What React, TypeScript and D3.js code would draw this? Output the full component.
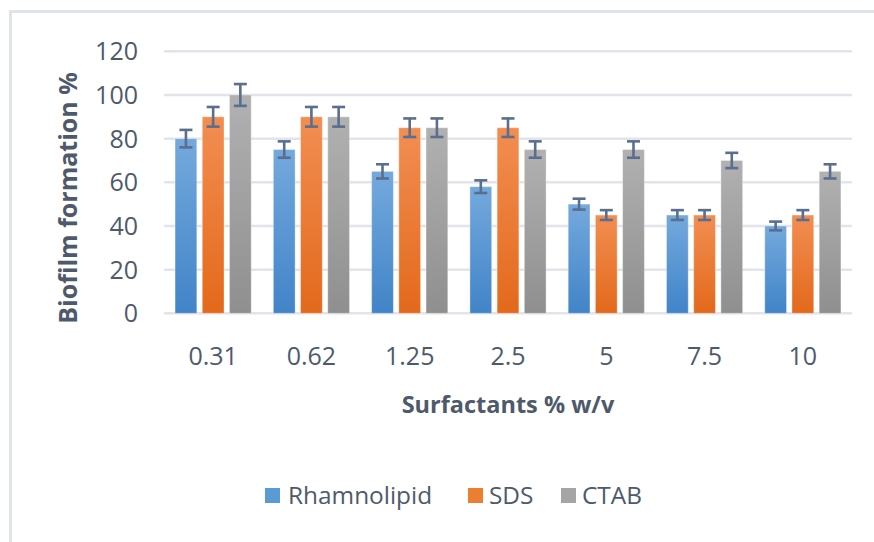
import * as React from 'react';
import { scaleBand, scaleLinear } from 'd3';

const categories = ['0.31', '0.62', '1.25', '2.5', '5', '7.5', '10'];
const seriesNames = ['Rhamnolipid', 'SDS', 'CTAB'];
const rhamnolipid = [80, 75, 65, 58, 50, 45, 40];
const sds = [90, 90, 85, 85, 45, 45, 45];
const ctab = [100, 90, 85, 75, 75, 70, 65];
const rhamnolipidErr = [4, 3.75, 3.25, 2.9, 2.5, 2.25, 2];
const sdsErr = [4.5, 4.5, 4.25, 4.25, 2.25, 2.25, 2.25];
const ctabErr = [5, 4.5, 4.25, 3.75, 3.75, 3.5, 3.25];
const yTicks = [0, 20, 40, 60, 80, 100, 120];

const series = [
    { name: seriesNames[0], values: rhamnolipid, err: rhamnolipidErr, top: '#74a9dd', bottom: '#4184c8', legend: '#5b9bd5' },
    { name: seriesNames[1], values: sds, err: sdsErr, top: '#f28e52', bottom: '#e3691b', legend: '#ed7d31' },
    { name: seriesNames[2], values: ctab, err: ctabErr, top: '#b1b1b1', bottom: '#8f8f8f', legend: '#a5a5a5' },
];

const W = 874;
const H = 542;
const plot = { left: 164, right: 852, top: 51.3, bottom: 313.3 };
const textColor = '#4e5a6c';
const font = '"Open Sans", sans-serif';

export default function App(): JSX.Element {
    const x = scaleBand<string>()
        .domain(categories)
        .range([plot.left, plot.right])
        .paddingInner(0.225)
        .paddingOuter(0.1125);

    const inner = scaleBand<string>()
        .domain(seriesNames)
        .range([0, x.bandwidth()])
        .paddingInner(0.2);

    const y = scaleLinear().domain([0, 120]).range([plot.bottom, plot.top]);

    // legend layout
    const legendItems = [
        { name: seriesNames[0], sq: 265, tx: 288 },
        { name: seriesNames[1], sq: 468, tx: 489 },
        { name: seriesNames[2], sq: 561, tx: 582 },
    ];

    return (
        <svg width={W} height={H} style={{ position: 'fixed', left: 0, top: 0, background: '#fff' }} fontFamily={font}>
            <defs>
                {series.map((s, i) => (
                    <linearGradient key={i} id={'grad' + i} x1="0" y1="0" x2="0" y2="1">
                        <stop offset="0%" stopColor={s.top} />
                        <stop offset="100%" stopColor={s.bottom} />
                    </linearGradient>
                ))}
            </defs>
            <rect x={10.5} y={11.5} width={W + 20} height={H + 20} fill="none" stroke="#dfe3ea" strokeWidth={3} />

            {/* gridlines */}
            {yTicks.map(t => (
                <line key={t} x1={plot.left} x2={plot.right} y1={y(t)} y2={y(t)} stroke="#e1e4eb" strokeWidth={2.5} />
            ))}
            {yTicks.map(t => (
                <text key={'l' + t} x={138} y={y(t)} dy="0.36em" textAnchor="end" fontSize={25} fill={textColor}>{t}</text>
            ))}

            {/* bars */}
            {series.map((s, si) => (
                <g key={s.name}>
                    {categories.map((c, ci) => {
                        const bx = (x(c) as number) + (inner(s.name) as number);
                        const v = s.values[ci];
                        return (
                            <rect key={c} x={bx} y={y(v)} width={inner.bandwidth()} height={y(0) - y(v)}
                                fill={`url(#grad${si})`} stroke="#ffffff" strokeOpacity={0.35} strokeWidth={1} />
                        );
                    })}
                </g>
            ))}

            {/* error bars */}
            {series.map(s => (
                <g key={'e' + s.name} stroke="#5a6e8f" strokeWidth={2.6}>
                    {categories.map((c, ci) => {
                        const cx = (x(c) as number) + (inner(s.name) as number) + inner.bandwidth() / 2;
                        const hi = y(s.values[ci] + s.err[ci]);
                        const lo = y(s.values[ci] - s.err[ci]);
                        return (
                            <g key={c}>
                                <line x1={cx} x2={cx} y1={hi} y2={lo} />
                                <line x1={cx - 6.5} x2={cx + 6.5} y1={hi} y2={hi} />
                                <line x1={cx - 6.5} x2={cx + 6.5} y1={lo} y2={lo} />
                            </g>
                        );
                    })}
                </g>
            ))}

            {/* x tick labels */}
            {categories.map(c => (
                <text key={c} x={(x(c) as number) + x.bandwidth() / 2} y={365} textAnchor="middle" fontSize={25} fill={textColor}>{c}</text>
            ))}

            <text x={(plot.left + plot.right) / 2} y={413} textAnchor="middle" fontSize={23.5} fontWeight="bold" fill={textColor}>Surfactants % w/v</text>
            <text transform={`translate(77, 198) rotate(-90)`} textAnchor="middle" fontSize={25} fontWeight="bold" fill={textColor}>Biofilm formation %</text>

            {/* legend */}
            {legendItems.map((l, i) => (
                <g key={l.name}>
                    <rect x={l.sq} y={488} width={15} height={15} fill={series[i].legend} />
                    <text x={l.tx} y={504} fontSize={24.4} fill={textColor}>{l.name}</text>
                </g>
            ))}
        </svg>
    );
}
